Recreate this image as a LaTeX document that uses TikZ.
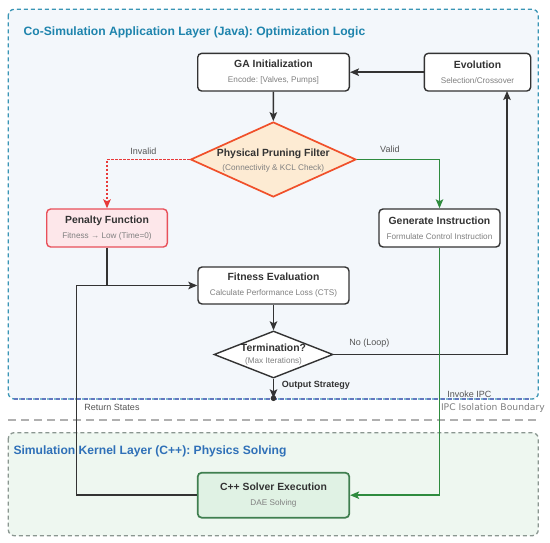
\documentclass[tikz,border=0pt]{standalone}
\usepackage{fontspec}
\setmainfont{Liberation Sans}
\newfontfamily\ipcfont{DejaVu Sans}
\frenchspacing
\usetikzlibrary{arrows.meta,shapes.geometric,calc}
\definecolor{topfill}{HTML}{F3F7FB}
\definecolor{topdraw}{HTML}{3A95B5}
\definecolor{topbottom}{HTML}{6478C0}
\definecolor{toptitle}{HTML}{1E84AD}
\definecolor{botfill}{HTML}{EEF7F0}
\definecolor{botdraw}{HTML}{8A9690}
\definecolor{bottitle}{HTML}{2F70B8}
\definecolor{dark}{HTML}{333333}
\definecolor{subgray}{HTML}{808080}
\definecolor{labgray}{HTML}{555555}
\definecolor{penfill}{HTML}{FDE7EA}
\definecolor{pendraw}{HTML}{E8505A}
\definecolor{pffill}{HTML}{FDEBD3}
\definecolor{pfdraw}{HTML}{F0502A}
\definecolor{solfill}{HTML}{E0F2E4}
\definecolor{soldraw}{HTML}{3F7F4F}
\definecolor{redline}{HTML}{E83A3A}
\definecolor{greenline}{HTML}{2E8B3E}
\definecolor{bndgray}{HTML}{B0B0B0}
\begin{document}
\begin{tikzpicture}[x=1pt,y=-1pt,
  box/.style={draw=dark, line width=1.4pt, rounded corners=4pt, fill=white,
    inner sep=0pt, align=center, text=dark, font=\fontsize{10.4}{15}\selectfont},
  dia/.style={diamond, line width=1.7pt, inner sep=0pt},
  diatext/.style={align=center, inner sep=0pt, text=dark, font=\fontsize{10.4}{14.5}\selectfont},
  tip/.style={-{Stealth[length=9pt,width=7.5pt,inset=2pt]}},
  arr/.style={draw=dark, line width=1.5pt, tip},
  plainline/.style={draw=dark, line width=1.5pt},
  redarr/.style={draw=redline, line width=1.5pt, dash pattern=on 2.5pt off 1.5pt, tip},
  greenarr/.style={draw=greenline, line width=1.5pt, tip},
  elabel/.style={text=labgray, font=\fontsize{9}{10}\selectfont, inner sep=0pt, anchor=base},
  cluster/.style={line width=1.3pt, dash pattern=on 4pt off 3pt, rounded corners=6pt}
]
\useasboundingbox (0,0) rectangle (550,543);
% clusters
\draw[cluster, draw=topdraw, fill=topfill] (8.3,9.3) rectangle (538.3,399);
\draw[line width=1.3pt, dash pattern=on 4pt off 3pt, draw=topbottom] (14.3,399) -- (532.3,399);
\draw[cluster, draw=botdraw, fill=botfill] (8.3,432.7) rectangle (538.3,535.7);
\draw[draw=bndgray, line width=1.4pt, dash pattern=on 8pt off 5pt] (8.3,420) -- (538.3,420);

\node[anchor=west, inner sep=0pt, text=toptitle, font=\fontsize{12.1}{14}\selectfont\bfseries] (ttop) at (23.5,32.7) {Co-Simulation Application Layer (Java): Optimization Logic};
\node[anchor=west, inner sep=0pt, text=bottitle, font=\fontsize{12.1}{14}\selectfont\bfseries] (tbot) at (13.3,451.7) {Simulation Kernel Layer (C++): Physics Solving};

% boxes
\node[box, minimum width=151.6pt, minimum height=37.7pt] (ga) at (273.5,72.2)
  {\textbf{GA Initialization}\\{\fontsize{8.2}{10}\selectfont\color{subgray}Encode: [Valves, Pumps]}};
\node[box, minimum width=106.4pt, minimum height=37.7pt] (evo) at (477.5,72.2)
  {\textbf{Evolution}\\{\fontsize{8.2}{10}\selectfont\color{subgray}Selection/Crossover}};
\node[box, draw=pendraw, fill=penfill, minimum width=120.6pt, minimum height=38pt] (pen) at (107,228)
  {\textbf{Penalty Function}\\{\fontsize{8.2}{10}\selectfont\color{subgray}Fitness → Low (Time=0)}};
\node[box, minimum width=121pt, minimum height=38pt] (gen) at (439.5,228)
  {\textbf{Generate Instruction}\\{\fontsize{8.2}{10}\selectfont\color{subgray}Formulate Control Instruction}};
\node[box, minimum width=151pt, minimum height=37pt] (fit) at (273.5,285.5)
  {\textbf{Fitness Evaluation}\\{\fontsize{8.2}{10}\selectfont\color{subgray}Calculate Performance Loss (CTS)}};
\node[box, draw=soldraw, fill=solfill, line width=1.7pt, minimum width=151.6pt, minimum height=45pt] (sol) at (273.5,495.2)
  {\textbf{C++ Solver Execution}\\{\fontsize{8.2}{10}\selectfont\color{subgray}DAE Solving}};

% diamonds
\node[dia, draw=pfdraw, fill=pffill, minimum width=165.4pt, minimum height=75pt] (pf) at (273.3,159.5) {};
\node[diatext] (pft) at (273.3,160.5)
  {\textbf{Physical Pruning Filter}\\{\fontsize{8.2}{10}\selectfont\color{subgray}(Connectivity \& KCL Check)}};
\node[dia, draw=dark, fill=white, line width=1.4pt, minimum width=119pt, minimum height=47pt] (term) at (273.5,354.5) {};
\node[diatext, font=\fontsize{10.4}{12}\selectfont] (termt) at (273.5,355)
  {\textbf{Termination?}\\{\fontsize{8.2}{10}\selectfont\color{subgray}(Max Iterations)}};

% coordinates
\coordinate (evoin) at (507,91);
\coordinate (rsx) at (76.7,495.2);
\coordinate (outpt) at (273.5,398.3);

% connectors
\draw[arr] (evo.west) -- (ga.east);
\draw[arr] (ga.south) -- (pf.north);
\draw[redarr] (pf.west) -| (pen.north) node[elabel, pos=0.28, yshift=5.4pt] {Invalid};
\draw[greenarr] (pf.east) -| (gen.north) node[elabel, pos=0.2, yshift=7pt] {Valid};
\draw[plainline] (pen.south) -- (pen.south |- fit.west);
\draw[arr] (sol.west) -- (rsx) |- (fit.west);
\draw[arr] (fit.south) -- (term.north);
\draw[arr] (term.east) -| (evoin) node[elabel, pos=0.103, yshift=9pt] {No (Loop)};
\draw[greenarr] (gen.south) |- (sol.east);
\draw[arr] (term.south) -- (outpt);
\fill[dark] (outpt) circle (2.8pt);

% free labels
\node[anchor=west, inner sep=0pt, text=dark, font=\fontsize{9}{10}\selectfont\bfseries] (outlab) at (281.7,385) {Output Strategy};
\node[text=labgray, font=\fontsize{9}{10}\selectfont, inner sep=0pt] (rslab) at (112,407.7) {Return States};
\node[text=labgray, font=\fontsize{9}{10}\selectfont, inner sep=0pt] (ipclab) at (469.3,394.3) {Invoke IPC};
\node[anchor=east, text=subgray, font=\ipcfont\fontsize{9.2}{10}\selectfont, inner sep=0pt] (bndlab) at (545,407.7) {IPC Isolation Boundary};
\end{tikzpicture}
\end{document}
